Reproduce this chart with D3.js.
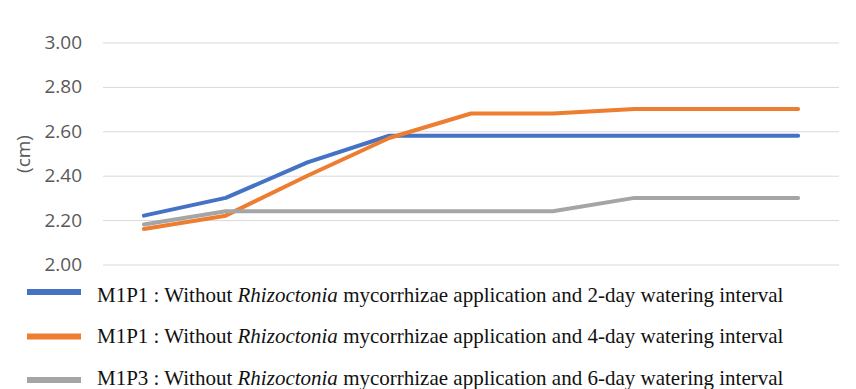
<!DOCTYPE html>
<html>
<head>
<meta charset="utf-8">
<script src="https://cdn.jsdelivr.net/npm/d3@7"></script>
<style>
  body { margin: 0; background: #fff; }
</style>
</head>
<body>
<div class="line-chart"></div>
<script>
// categories (no x labels shown in the figure)
var weeks = ["1", "2", "3", "4", "5", "6", "7", "8", "9"];
var yTicks = [2.00, 2.20, 2.40, 2.60, 2.80, 3.00];

var m1p1_2day = [2.22, 2.30, 2.46, 2.58, 2.58, 2.58, 2.58, 2.58, 2.58];
var m1p1_4day = [2.16, 2.22, 2.40, 2.57, 2.68, 2.68, 2.70, 2.70, 2.70];
var m1p3_6day = [2.18, 2.24, 2.24, 2.24, 2.24, 2.24, 2.30, 2.30, 2.30];

var seriesNames = ["M1P1", "M1P1", "M1P3"];
var seriesDays = ["2-day", "4-day", "6-day"];
var colors = ["#4472C4", "#ED7D31", "#A5A5A5"];

var series = [m1p1_2day, m1p1_4day, m1p3_6day].map(function (vals, i) {
  return {
    name: seriesNames[i],
    days: seriesDays[i],
    color: colors[i],
    values: vals.map(function (v, j) { return { week: weeks[j], value: v }; })
  };
});

var width = 856,
  height = 389;

var svg = d3.select(".line-chart")
  .append("svg")
  .attr("width", width)
  .attr("height", height)
  .style("font-family", "'Open Sans', sans-serif");

var x = d3.scalePoint()
  .domain(weeks)
  .range([103, 839])
  .padding(0.5);

var y = d3.scaleLinear()
  .domain([2.0, 3.0])
  .range([264.5, 42.5]);

/* ------- GRID + Y AXIS -------*/
var yAxis = d3.axisLeft(y)
  .tickValues(yTicks)
  .tickSize(-(839 - 103))
  .tickPadding(21)
  .tickFormat(d3.format(".2f"));

var gy = svg.append("g")
  .attr("transform", "translate(103,0)")
  .call(yAxis);

gy.select(".domain").remove();
gy.selectAll(".tick line")
  .attr("stroke", "#d9d9d9")
  .attr("stroke-width", 1);
gy.selectAll(".tick text")
  .attr("fill", "#595959")
  .style("font-size", "19px")
  .style("font-family", "'Open Sans', sans-serif");

svg.append("text")
  .attr("transform", "translate(30,154) rotate(-90)")
  .attr("text-anchor", "middle")
  .attr("fill", "#595959")
  .style("font-size", "19px")
  .text("(cm)");

/* ------- LINES -------*/
var line = d3.line()
  .x(function (d) { return x(d.week); })
  .y(function (d) { return y(d.value); });

svg.append("g")
  .attr("class", "lines")
  .selectAll("path")
  .data(series)
  .enter()
  .append("path")
  .attr("d", function (d) { return line(d.values); })
  .attr("fill", "none")
  .attr("stroke", function (d) { return d.color; })
  .attr("stroke-width", 4)
  .attr("stroke-linejoin", "round")
  .attr("stroke-linecap", "round");

/* ------- LEGEND -------*/
var swatchY = [292, 336.5, 380];
var textY = [302, 343, 385];

var legend = svg.append("g")
  .attr("class", "legend")
  .selectAll("g")
  .data(series)
  .enter()
  .append("g");

legend.append("line")
  .attr("x1", 27)
  .attr("x2", 81)
  .attr("y1", function (d, i) { return swatchY[i]; })
  .attr("y2", function (d, i) { return swatchY[i]; })
  .attr("stroke", function (d) { return d.color; })
  .attr("stroke-width", 6);

var label = legend.append("text")
  .attr("x", 97)
  .attr("y", function (d, i) { return textY[i]; })
  .attr("fill", "#111")
  .style("font-family", "'Liberation Serif', 'Times New Roman', serif")
  .style("font-size", "21px");

label.append("tspan").text(function (d) { return d.name + " : Without "; });
label.append("tspan").style("font-style", "italic").text("Rhizoctonia");
label.append("tspan").text(function (d) {
  return " mycorrhizae application and " + d.days + " watering interval";
});
</script>
</body>
</html>
